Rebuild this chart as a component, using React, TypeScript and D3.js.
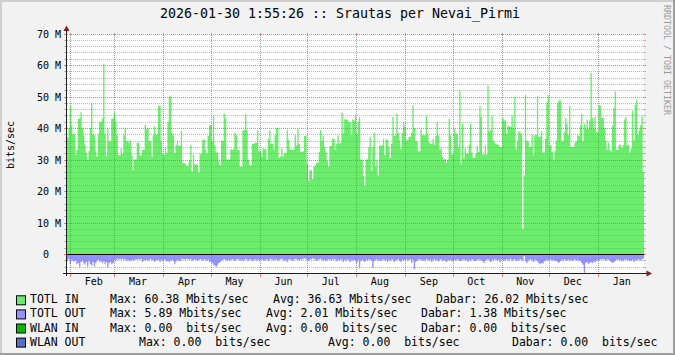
import React from "react";
import * as d3 from "d3";

const W = 675;
const H = 355;

const title = "2026-01-30 1:55:26 :: Srautas per Nevai_Pirmi";
const yAxisTitle = "bits/sec";
const watermark = "RRDTOOL / TOBI OETIKER";

const start = new Date(2025, 0, 30, 1, 55, 26);
const end = new Date(2026, 0, 30, 1, 55, 26);

// TOTL IN, Mbits/sec left to right
const totlIn = [
  37, 40, 47, 41, 38, 38, 31.5, 33, 43, 43, 45, 40, 37.7, 34.7, 32, 30, 32.6, 40, 48, 38,
  37.7, 32.6, 31, 38, 42, 42, 43, 60.38, 38, 31, 39.8, 36, 35.7, 43, 43, 45, 42, 37.7, 31.4, 31.4,
  33.7, 31.8, 37.7, 40, 35.8, 36, 35.3, 36, 31.4, 26.6, 30, 30, 35.4, 35.4, 31.4, 31.4, 33, 33, 41, 39.6,
  40, 35.8, 35.8, 30.7, 37.7, 40.6, 37.9, 37.9, 47, 47,
  36, 32, 31.5, 34, 32, 42, 50, 50, 38.5, 37.7, 32, 34.5, 36, 34.3, 34.5, 39, 29, 28.8, 28.7, 28,
  28, 29.8, 34.7, 26.3, 31.6, 28.4, 28.4, 28.4, 25.9, 31.8, 32, 36.4, 36.4, 33, 31.9, 37.5, 40.8, 41, 35.8, 44,
  34.5, 32.2, 32.2, 29.5, 28.2, 36, 36, 44.5, 43, 30, 30, 30, 33.3, 33, 33.3, 38.5, 37.9, 33, 33, 27.7,
  27.7, 39.3, 39.3, 44.5, 39.3, 30, 28.2, 28.2, 35, 35, 35.3, 35.3,
  39.3, 32.6, 32.6, 31, 33.5, 33.3, 33.3, 30, 36.6, 39.3, 35, 35, 33, 37.7, 40, 40, 30.5, 31, 33.5, 30.8,
  32, 32, 39.3, 36.4, 33.5, 33, 33, 33.3, 37.7, 34.5, 39.6, 35, 32.4, 32.4, 32.6, 37.5, 37.5, 28.7, 23.2, 26.6,
  26.6, 23.8, 27.7, 28.2, 29, 29, 32.4, 39.3, 36, 37.5, 34, 32.2, 29.5, 27.7, 34.3, 34.3, 36.6, 36.6, 33, 35,
  37.7, 35, 35.3, 44.8, 38.2, 42.7, 42.7, 42.7, 41.9, 41.9, 37.7, 42.7,
  42.4, 44.2, 38.2, 41.9, 43.5, 30, 30, 24.8, 21.7, 30, 30, 34, 37.2, 26.3, 34, 38.5, 27.7, 30, 25, 34.3,
  34.5, 34.5, 36.6, 31.4, 36.4, 36.4, 34, 30.5, 35, 43.5, 37.5, 37.7, 44.5, 38.5, 36, 33.3, 38.5, 41.9, 40.3, 36,
  36.3, 37.2, 37.2, 38.5, 47.2, 40, 35.8, 35.8, 32.6, 32.6, 39.8, 37.7, 37.7, 37.7, 44, 38.2, 35.4, 35, 35, 36.6,
  34.7, 37.5, 42, 37.7, 33, 33.7, 30.8, 30, 30.2, 29, 30, 43,
  37.7, 31.5, 32.2, 39.8, 38.2, 38.2, 34, 51.9, 28.4, 41.4, 30.3, 33.5, 31.9, 31.9, 34.7, 41.4, 32.2, 30.5, 30.5, 31.9,
  34.3, 32.4, 47, 43.5, 31.6, 31.6, 34.5, 31.6, 53.5, 39, 39.3, 43.8, 36, 35.4, 35, 34.7, 34.7, 34, 34, 43.2,
  42.4, 42.4, 38.2, 40.8, 40.6, 40.3, 44, 40, 49.8, 33.3, 35.8, 39, 38.6, 38.2, 8, 25, 50.5, 36, 35.8, 34,
  34, 37.9, 31.6, 37.7, 37.9, 50, 37.2, 37.2, 39, 32.2, 32.2, 36.6,
  48.2, 50.5, 34.5, 34.5, 32.4, 29.8, 32.6, 36, 48, 48.7, 48.7, 35.8, 35.8, 38.7, 43.2, 41.4, 37.7, 47, 34, 34,
  34, 35.4, 35.8, 37.7, 37.4, 40.8, 44.5, 35.8, 41.4, 39.8, 42.7, 39.8, 42.4, 57.5, 43.2, 39.8, 43.5, 38.7, 38.7, 47.4,
  47, 43.2, 43.2, 40, 36, 33, 35.4, 33, 32.6, 40.8, 46.3, 51.6, 33, 33, 34.7, 34.7, 33.7, 34.5, 42.7, 43.5,
  34.5, 34.5, 32.2, 33.5, 45.6, 36, 47.4, 49, 37.9, 39.3, 40.8, 43.8, 26.02,
];

// TOTL OUT, Mbits/sec (drawn below zero)
const totlOut = [
  2.1, 1.5, 3.2, 1.8, 2.3, 2.3, 2.1, 3.2, 2.8, 4.2, 2.5, 2.1, 2.8, 3.4, 2.5, 3.9, 2.3, 3.2, 3.6, 2.5,
  3.9, 2.8, 2.1, 1.8, 2.5, 2.1, 2.8, 2.3, 3.2, 2.5, 4.2, 2.8, 2.5, 3.2, 2.8, 1.8, 2.1, 1.5, 1.8, 1.5,
  1.8, 1.5, 1.8, 1.6, 2.1, 1.8, 2.3, 2.1, 1.8, 2.1, 1.8, 1.6, 1.8, 1.5, 1.8, 1.5, 2.5, 1.8, 2.1, 1.8,
  2.1, 1.8, 1.5, 2.1, 1.8, 2.5, 1.9, 2.1, 1.8, 2.5,
  1.8, 2.1, 1.6, 1.8, 2.3, 2.1, 2.5, 2.1, 1.8, 2.1, 3.2, 2.3, 1.8, 2.1, 2.3, 1.8, 1.5, 1.6, 1.8, 1.5,
  1.6, 1.8, 1.5, 2.1, 1.8, 1.6, 1.9, 2.1, 1.8, 1.6, 1.8, 2.1, 1.6, 1.8, 2.1, 1.8, 2.5, 2.3, 2.8, 3.4,
  3.6, 4.2, 3.4, 2.8, 2.5, 2.1, 1.8, 1.6, 1.8, 2.1, 1.8, 2.3, 1.8, 1.6, 1.8, 2.1, 1.8, 1.5, 1.8, 2.1,
  1.6, 2.3, 1.8, 1.5, 1.8, 2.1, 1.6, 1.8, 2.3, 1.8, 1.6, 2.1,
  1.6, 2.1, 1.8, 1.6, 1.9, 2.1, 1.8, 1.6, 2.1, 1.8, 1.5, 1.8, 2.1, 1.6, 1.8, 2.3, 1.8, 1.6, 1.5, 1.8,
  2.1, 1.8, 2.5, 1.8, 1.6, 1.8, 2.1, 1.8, 1.5, 1.6, 1.8, 2.1, 1.6, 1.8, 1.5, 1.3, 1.6, 1.8, 2.1, 1.8,
  1.6, 1.3, 1.5, 1.8, 2.1, 1.8, 1.6, 1.5, 1.8, 2.1, 1.8, 2.3, 1.8, 1.6, 1.8, 2.1, 1.5, 1.8, 1.6, 2.3,
  1.8, 2.1, 1.6, 1.8, 2.5, 1.8, 2.1, 1.6, 1.8, 2.5, 1.8, 2.1,
  1.8, 2.1, 2.8, 1.8, 4.4, 2.3, 1.8, 2.1, 2.5, 1.8, 2.1, 1.6, 1.8, 2.1, 4.4, 2.1, 1.8, 1.6, 2.1, 1.8,
  2.3, 1.8, 1.6, 2.1, 1.8, 2.5, 1.8, 2.1, 1.6, 1.8, 2.5, 2.1, 1.8, 1.6, 2.1, 2.5, 1.8, 2.1, 1.8, 1.6,
  2.1, 1.8, 1.6, 2.8, 1.8, 4.9, 2.5, 2.1, 1.8, 1.6, 1.8, 2.1, 1.8, 2.3, 1.6, 1.8, 2.1, 1.8, 2.5, 1.8,
  1.6, 2.1, 1.8, 2.3, 1.8, 1.6, 2.1, 1.8, 2.1, 2.5, 1.8, 2.1,
  1.8, 2.1, 2.5, 1.8, 2.1, 1.6, 1.8, 2.3, 2.1, 1.8, 1.6, 2.1, 1.8, 2.5, 1.8, 2.1, 1.6, 1.8, 2.3, 2.1,
  1.8, 1.6, 2.1, 1.8, 2.3, 2.8, 2.1, 1.8, 1.6, 2.1, 2.5, 1.8, 2.1, 1.6, 1.8, 2.1, 1.8, 2.5, 1.6, 1.8,
  2.1, 1.8, 1.6, 2.1, 1.8, 1.5, 2.1, 1.8, 1.6, 2.3, 1.8, 2.1, 1.6, 1.8, 2.1, 0.6, 2.3, 2.8, 2.1, 1.8,
  1.6, 2.1, 2.5, 1.8, 2.1, 2.3, 2.8, 3.2, 2.8, 3.0, 2.3, 2.1,
  1.8, 2.1, 1.6, 1.8, 2.1, 1.8, 2.3, 2.1, 2.5, 2.8, 2.3, 1.8, 2.1, 1.6, 1.8, 2.1, 1.8, 2.3, 1.8, 2.1,
  1.8, 1.6, 2.1, 1.8, 2.3, 2.1, 2.8, 3.4, 5.89, 2.8, 2.5, 3.2, 2.8, 2.5, 2.8, 2.3, 2.5, 2.1, 1.8, 2.1,
  1.6, 1.8, 1.5, 1.8, 2.1, 1.6, 1.8, 2.1, 2.5, 2.8, 2.5, 2.1, 1.8, 1.6, 2.1, 1.8, 2.3, 2.1, 1.8, 1.6,
  2.1, 1.8, 2.3, 2.1, 1.8, 2.5, 1.8, 2.1, 1.6, 1.8, 2.1, 1.6, 1.38,
];

const yMajorTicks = [0, 10, 20, 30, 40, 50, 60, 70];
const yMinorTicks = [-4, -2, 2, 4, 6, 8, 12, 14, 16, 18, 22, 24, 26, 28, 32, 34, 36, 38, 42, 44, 46, 48, 52, 54, 56, 58, 62, 64, 66, 68];

const legendNames = ["TOTL IN", "TOTL OUT", "WLAN IN", "WLAN OUT"];
const legendColors = ["#6cec6c", "#9393ff", "#00bb00", "#5470c6"];
const legendMax = ["Max: 60.38 Mbits/sec", "Max: 5.89 Mbits/sec", "Max: 0.00  bits/sec", "Max: 0.00  bits/sec"];
const legendAvg = ["Avg: 36.63 Mbits/sec", "Avg: 2.01 Mbits/sec", "Avg: 0.00  bits/sec", "Avg: 0.00  bits/sec"];
const legendNow = ["Dabar: 26.02 Mbits/sec", "Dabar: 1.38 Mbits/sec", "Dabar: 0.00  bits/sec", "Dabar: 0.00  bits/sec"];

const FONT = "'DejaVu Sans Mono', monospace";
const GREEN = "#6cec6c";
const BLUE = "#9393ff";

export default function App() {
  const x0 = 67;
  const x1 = 644;
  const x = d3.scaleTime().domain([start, end]).range([x0, x1]);
  const y = d3.scaleLinear().domain([-6e6, 70e6]).range([273, 33.5]);
  const py = (v: number) => Math.round(y(v * 1e6)) + 0.5;

  const makePts = (vals: number[]) => {
    const step = (+end - +start) / vals.length;
    const pts = vals.map((v, i) => ({ t: new Date(+start + i * step), v }));
    pts.push({ t: end, v: vals[vals.length - 1] });
    return pts;
  };

  const inArea = d3
    .area<{ t: Date; v: number }>()
    .x((d) => x(d.t))
    .y0(y(0))
    .y1((d) => y(d.v * 1e6))
    .curve(d3.curveStepAfter);
  const outArea = d3
    .area<{ t: Date; v: number }>()
    .x((d) => x(d.t))
    .y0(y(0))
    .y1((d) => y(-d.v * 1e6))
    .curve(d3.curveStepAfter);

  const months = d3.timeMonth.range(start, end);
  const yTop = py(70);
  const yBot = 273.5;

  const minorCol = "rgba(143,143,143,0.6)";
  const majorCol = "rgba(222,79,79,0.7)";
  const pre = { whiteSpace: "pre" as const };

  return (
    <svg width={W} height={H} style={{ position: "absolute", left: 0, top: 0, display: "block" }}>
      <rect x={0} y={0} width={W} height={H} fill="#f2f2f2" />
      <rect x={0} y={0} width={W} height={2} fill="#cfcfcf" />
      <rect x={0} y={0} width={2} height={H} fill="#cfcfcf" />
      <rect x={0} y={H - 2} width={W} height={2} fill="#9e9e9e" />
      <rect x={W - 2} y={0} width={2} height={H} fill="#9e9e9e" />

      <text x={340} y={18.3} fontFamily={FONT} fontSize={13.3} textAnchor="middle" fill="#000">
        {title}
      </text>

      <rect x={x0} y={yTop - 0.5} width={x1 - x0} height={yBot - yTop} fill="#fff" />

      <path d={inArea(makePts(totlIn)) || ""} fill={GREEN} />
      <path d={outArea(makePts(totlOut)) || ""} fill={BLUE} />

      <g shapeRendering="crispEdges">
        {yMinorTicks.map((v) => (
          <g key={"mi" + v}>
            <line x1={x0} x2={x1} y1={py(v)} y2={py(v)} stroke={minorCol} strokeDasharray="1,1" />
            <line x1={x0 - 3} x2={x0} y1={py(v)} y2={py(v)} stroke={minorCol} />
            <line x1={x1} x2={x1 + 2} y1={py(v)} y2={py(v)} stroke={minorCol} />
          </g>
        ))}
        {yMajorTicks.map((v) => (
          <g key={"ma" + v}>
            <line x1={x0} x2={x1} y1={py(v)} y2={py(v)} stroke={majorCol} strokeDasharray="1,1" />
            <line x1={x0 - 3} x2={x0} y1={py(v)} y2={py(v)} stroke={majorCol} />
            <line x1={x1} x2={x1 + 2} y1={py(v)} y2={py(v)} stroke={majorCol} />
          </g>
        ))}
        {months.map((m) => {
          const xx = Math.round(x(m)) + 0.5;
          return (
            <g key={"m" + +m}>
              <line x1={xx} x2={xx} y1={yTop} y2={yBot} stroke={majorCol} strokeDasharray="1,1" />
              <line x1={xx} x2={xx} y1={yBot} y2={yBot + 3} stroke={majorCol} />
              <line x1={xx} x2={xx} y1={yTop - 2} y2={yTop} stroke={majorCol} />
            </g>
          );
        })}
        <line x1={x0} x2={x1} y1={py(0)} y2={py(0)} stroke="#000" strokeWidth={1.4} />
        <line x1={66.5} x2={66.5} y1={29} y2={yBot + 2} stroke="#1f1f1f" />
        <line x1={63} x2={648} y1={yBot} y2={yBot} stroke="#1f1f1f" />
      </g>
      <path d="M63.5,31 L69.5,31 L66.5,25.5 Z" fill="#801f1f" />
      <path d="M646.5,270.5 L646.5,276.5 L652,273.5 Z" fill="#801f1f" />

      {yMajorTicks.map((v) => (
        <text
          key={"yl" + v}
          x={61}
          y={py(v)}
          dy="0.35em"
          textAnchor="end"
          fontFamily={FONT}
          fontSize={10}
          fill="#000"
          xmlSpace="preserve"
          style={pre}
        >
          {v === 0 ? "0  " : `${v} M`}
        </text>
      ))}
      {months.map((m) => (
        <text
          key={"xl" + +m}
          x={x(d3.timeDay.offset(m, 15))}
          y={285}
          textAnchor="middle"
          fontFamily={FONT}
          fontSize={10}
          fill="#000"
        >
          {d3.timeFormat("%b")(m)}
        </text>
      ))}

      <text
        transform="translate(14,145) rotate(-90)"
        textAnchor="middle"
        fontFamily={FONT}
        fontSize={10}
        fill="#000"
      >
        {yAxisTitle}
      </text>
      <text
        transform="translate(664,60) rotate(90)"
        textAnchor="middle"
        fontFamily={FONT}
        fontSize={8.3}
        fill="#999"
      >
        {watermark}
      </text>

      {legendNames.map((name, i) => {
        const by = 303.3 + i * 14.1;
        const cols = i === 3 ? [139, 328, 512] : i === 0 ? [110, 273, 436] : [110, 266, 421];
        return (
          <g key={name} fontFamily={FONT} fontSize={11.5} fill="#000">
            <rect x={16.5} y={by - 7.5} width={9} height={9} fill={legendColors[i]} stroke="#000" />
            <text x={30} y={by} xmlSpace="preserve" style={pre}>{name}</text>
            <text x={cols[0]} y={by} xmlSpace="preserve" style={pre}>{legendMax[i]}</text>
            <text x={cols[1]} y={by} xmlSpace="preserve" style={pre}>{legendAvg[i]}</text>
            <text x={cols[2]} y={by} xmlSpace="preserve" style={pre}>{legendNow[i]}</text>
          </g>
        );
      })}
    </svg>
  );
}
